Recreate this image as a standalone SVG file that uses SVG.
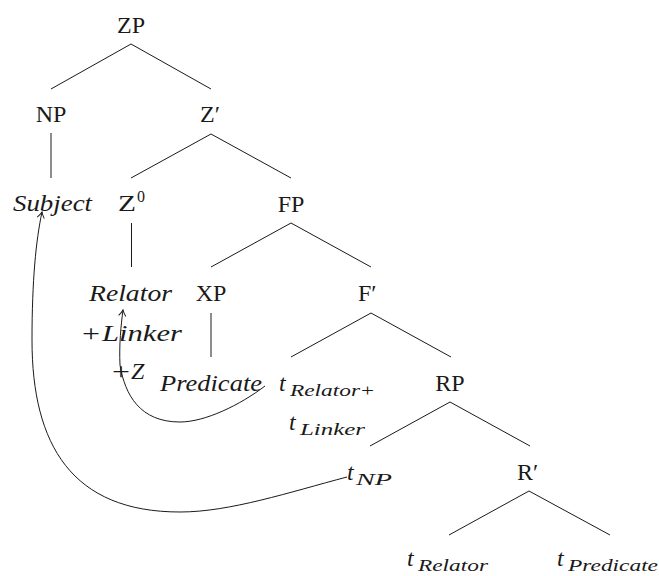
<svg xmlns="http://www.w3.org/2000/svg" width="659" height="576" viewBox="0 0 659 576">
  <style>
    text { font-family: 'Liberation Serif', 'DejaVu Serif', serif; font-size: 24px; fill: #1a1a1a; }
    .it { font-style: italic; }
    .sub { font-size: 17px; }
    .sup { font-size: 16px; }
    .mid { text-anchor: middle; }
    .edge { stroke: #1a1a1a; stroke-width: 1; fill: none; }
    .move { stroke: #1a1a1a; stroke-width: 1; fill: none; marker-end: url(#tip); }
  </style>
  <defs>
    <marker id="tip" markerUnits="userSpaceOnUse" markerWidth="12" markerHeight="12" refX="0" refY="0" viewBox="-8 -6 10 12" orient="auto" overflow="visible">
      <path d="M -6,-3.6 Q -2.4,-0.9 0,0 Q -2.4,0.9 -6,3.6" fill="none" stroke="#1a1a1a" stroke-width="1"/>
    </marker>
  </defs>
  <rect width="659" height="576" fill="#ffffff"/>

  <!-- tree branches and movement arrows -->
  <g id="connectors">
    <line class="edge" x1="131" y1="44" x2="51" y2="89"/>
    <line class="edge" x1="131" y1="44" x2="211" y2="89"/>
    <line class="edge" x1="51" y1="133" x2="51" y2="178"/>
    <line class="edge" x1="211" y1="134" x2="131" y2="178"/>
    <line class="edge" x1="211" y1="134" x2="291" y2="178"/>
    <line class="edge" x1="131.5" y1="223" x2="131.5" y2="267"/>
    <line class="edge" x1="291" y1="223" x2="211" y2="267"/>
    <line class="edge" x1="291" y1="223" x2="371" y2="267"/>
    <line class="edge" x1="211" y1="313" x2="211" y2="357"/>
    <line class="edge" x1="371" y1="313" x2="291" y2="357"/>
    <line class="edge" x1="371" y1="313" x2="451" y2="357"/>
    <line class="edge" x1="450" y1="402" x2="370" y2="446"/>
    <line class="edge" x1="450" y1="402" x2="530" y2="446"/>
    <line class="edge" x1="529" y1="491" x2="449" y2="535"/>
    <line class="edge" x1="529" y1="491" x2="610" y2="535"/>
    <!-- head movement: t(Relator+Linker) to Z0 -->
    <path class="move" d="M 265,386 C 240,405 205,422 180,422 C 140,422 125,395 120,365 C 119,345 121,325 123,310"/>
    <!-- subject movement: t(NP) to Spec,ZP -->
    <path class="move" d="M 347,477 C 290,492 230,512 180,512 C 72,512 32,445 32,340 C 32,280 36,240 42,212"/>
  </g>

  <g id="zp"><text class="mid" x="131" y="33">ZP</text></g>
  <g id="np"><text class="mid" x="51" y="122">NP</text></g>
  <g id="zbar"><text x="200" y="122">Z′</text></g>
  <g id="subject"><text class="it" x="13" y="211" textLength="79" lengthAdjust="spacingAndGlyphs">Subject</text></g>
  <g id="z0">
    <text x="118" y="211" textLength="18" lengthAdjust="spacingAndGlyphs">Z</text>
    <text class="sup" x="137" y="202">0</text>
  </g>
  <g id="fp"><text class="mid" x="291" y="212">FP</text></g>
  <g id="relator">
    <text class="it" x="89" y="301" textLength="83" lengthAdjust="spacingAndGlyphs">Relator</text>
    <text x="82" y="341" textLength="18" lengthAdjust="spacingAndGlyphs">+</text>
    <text class="it" x="102" y="341" textLength="80" lengthAdjust="spacingAndGlyphs">Linker</text>
    <text x="112" y="379" textLength="18" lengthAdjust="spacingAndGlyphs">+</text>
    <text class="it" x="131" y="379">Z</text>
  </g>
  <g id="xp"><text class="mid" x="211" y="301">XP</text></g>
  <g id="fbar"><text x="358" y="301">F′</text></g>
  <g id="predicate"><text class="it" x="160" y="391" textLength="102" lengthAdjust="spacingAndGlyphs">Predicate</text></g>
  <g id="t-relator-linker">
    <text class="it" x="279" y="391">t</text>
    <text class="it sub" x="290" y="396" textLength="70" lengthAdjust="spacingAndGlyphs">Relator</text>
    <text class="sub" x="361" y="396" textLength="13" lengthAdjust="spacingAndGlyphs">+</text>
    <text class="it" x="289" y="430">t</text>
    <text class="it sub" x="300" y="435" textLength="65" lengthAdjust="spacingAndGlyphs">Linker</text>
  </g>
  <g id="rp"><text class="mid" x="450" y="391">RP</text></g>
  <g id="t-np">
    <text class="it" x="347" y="480">t</text>
    <text class="it sub" x="356" y="485" textLength="36" lengthAdjust="spacingAndGlyphs">NP</text>
  </g>
  <g id="rbar"><text x="517" y="480">R′</text></g>
  <g id="t-relator">
    <text class="it" x="407" y="566">t</text>
    <text class="it sub" x="418" y="571" textLength="70" lengthAdjust="spacingAndGlyphs">Relator</text>
  </g>
  <g id="t-predicate">
    <text class="it" x="557" y="566">t</text>
    <text class="it sub" x="568" y="571" textLength="90" lengthAdjust="spacingAndGlyphs">Predicate</text>
  </g>
</svg>
